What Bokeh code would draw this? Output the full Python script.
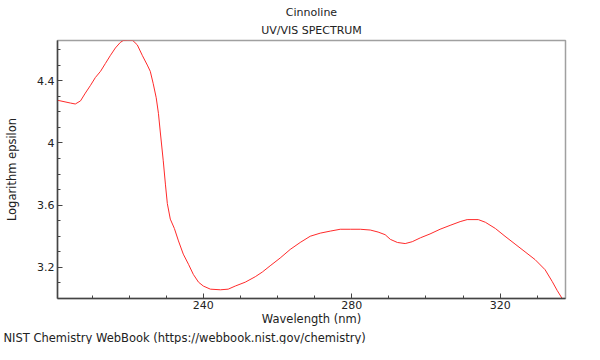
from bokeh.plotting import figure
from bokeh.models import Range1d, FixedTicker, Title
from bokeh.embed import file_html
from bokeh.resources import INLINE

title_name = "Cinnoline"
title_sub = "UV/VIS SPECTRUM"
x_label = "Wavelength (nm)"
y_label = "Logarithm epsilon"
footer = "NIST Chemistry WebBook (https://webbook.nist.gov/chemistry)"

wavelength = [200.7, 204.2, 205.5, 206.9, 208.2, 209.6, 210.9, 212.3, 213.6, 214.9,
              216.3, 217.6, 218.4, 219.6, 220.9, 222.2, 223.6, 224.9, 225.7, 226.5,
              227.3, 227.9, 228.4, 229.2, 229.8, 230.3, 231.1, 232.2, 233.3, 234.6,
              236.0, 237.3, 238.7, 240.0, 241.9, 244.6, 246.7, 248.6, 251.3, 254.0,
              255.9, 258.0, 260.7, 263.4, 266.1, 268.8, 271.5, 274.2, 276.9, 279.6,
              282.3, 285.0, 287.1, 289.0, 290.4, 292.3, 294.4, 296.3, 298.5, 301.1,
              303.8, 306.5, 309.2, 311.1, 314.1, 316.0, 318.7, 321.3, 324.0, 326.7,
              329.4, 332.1, 334.0, 335.4, 336.7]
log_eps = [4.274, 4.256, 4.250, 4.270, 4.320, 4.370, 4.420, 4.460, 4.510, 4.560,
           4.610, 4.645, 4.658, 4.660, 4.660, 4.630, 4.560, 4.500, 4.460, 4.380,
           4.290, 4.190, 4.070, 3.885, 3.730, 3.610, 3.510, 3.450, 3.370, 3.285,
           3.220, 3.155, 3.105, 3.080, 3.060, 3.056, 3.060, 3.080, 3.105, 3.140,
           3.170, 3.210, 3.260, 3.315, 3.360, 3.400, 3.420, 3.433, 3.445, 3.445,
           3.445, 3.440, 3.427, 3.410, 3.380, 3.360, 3.353, 3.365, 3.390, 3.415,
           3.445, 3.470, 3.494, 3.507, 3.507, 3.490, 3.450, 3.400, 3.350, 3.300,
           3.250, 3.185, 3.110, 3.050, 3.000]

x_major = [240, 280, 320]
x_minor = [210, 220, 230, 250, 260, 270, 290, 300, 310, 330]
y_major = [3.2, 3.6, 4.0, 4.4]
y_minor = [3.1, 3.3, 3.4, 3.5, 3.7, 3.8, 3.9, 4.1, 4.2, 4.3, 4.5, 4.6]

FONT = "DejaVu Sans"
FS = "11px"
FS_L = "11.5px"
TXT = "#222222"

p = figure(width=584, height=344, output_backend="svg", toolbar_location=None,
           x_range=Range1d(200.7, 337.6), y_range=Range1d(3.0, 4.658),
           min_border_left=57, min_border_right=19, min_border_top=40, min_border_bottom=42)
p.background_fill_color = "white"
p.border_fill_color = "white"
p.outline_line_color = "#a0a0a0"
p.outline_line_width = 1.5
p.xgrid.visible = False
p.ygrid.visible = False

p.line(wavelength, log_eps, line_color="#ff2a2a", line_width=1)

for ax in (p.xaxis[0], p.yaxis[0]):
    ax.axis_line_color = "#444444"
    ax.axis_line_width = 1.5
    ax.major_tick_in = 5
    ax.major_tick_out = 0
    ax.minor_tick_in = 3
    ax.minor_tick_out = 0
    ax.major_tick_line_color = "#444444"
    ax.minor_tick_line_color = "#444444"
    ax.major_label_text_font = FONT
    ax.major_label_text_font_size = FS
    ax.major_label_text_color = TXT
    ax.axis_label_text_font = FONT
    ax.axis_label_text_font_size = FS_L
    ax.axis_label_text_font_style = "normal"
    ax.axis_label_text_color = TXT

p.xaxis[0].ticker = FixedTicker(ticks=x_major, minor_ticks=x_minor)
p.yaxis[0].ticker = FixedTicker(ticks=y_major, minor_ticks=y_minor)
p.yaxis[0].major_label_overrides = {4: "4"}
p.xaxis[0].axis_label = x_label
p.yaxis[0].axis_label = y_label
p.xaxis[0].major_label_standoff = 2
p.yaxis[0].major_label_standoff = 3
p.xaxis[0].axis_label_standoff = 0
p.yaxis[0].axis_label_standoff = 15

p.title.text = title_name
p.title.align = "center"
p.title.text_font = FONT
p.title.text_font_size = FS
p.title.text_font_style = "normal"
p.title.text_color = TXT
p.title.standoff = 0

p.add_layout(Title(text=title_sub, align="center", text_font=FONT, text_font_size=FS,
                   text_font_style="normal", text_color=TXT, standoff=7), "above")
p.add_layout(Title(text=footer, align="left", offset=-54, text_font=FONT, text_font_size=FS_L,
                   text_font_style="normal", text_color=TXT, standoff=0), "below")

open("out.html", "w").write(file_html(p, INLINE))
